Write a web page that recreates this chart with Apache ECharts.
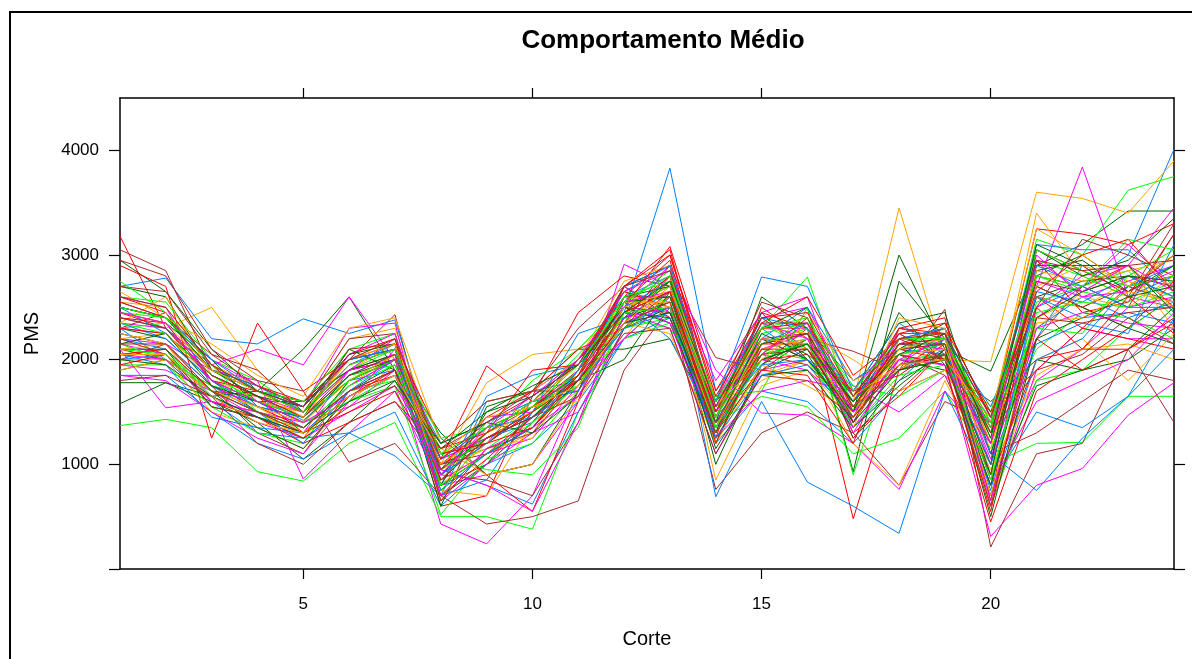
<!DOCTYPE html>
<html>
<head>
<meta charset="utf-8">
<title>Comportamento Médio</title>
<script src="https://cdn.jsdelivr.net/npm/echarts@6/dist/echarts.min.js"></script>
<style>
  html, body { margin: 0; padding: 0; background: #fff; }
  #chart { width: 1192px; height: 659px; }
</style>
</head>
<body>
<div id="chart"></div>
<script>
// cortes 1..24
const cortes = [1,2,3,4,5,6,7,8,9,10,11,12,13,14,15,16,17,18,19,20,21,22,23,24];
const xTicks = [5, 10, 15, 20];
const yTicks = [0, 1000, 2000, 3000, 4000];
const yLabels = [1000, 2000, 3000, 4000];

// PMS por individuo, agrupado pela cor do lattice
const azul = [
  [2200,2100,1700,1600,1350,1750,2000,900,1300,1600,2000,2450,3830,1700,2300,2000,1500,1900,2100,1300,2500,2700,3000,4010],
  [2700,2780,2200,2150,2390,2250,2380,950,800,620,1500,2200,2600,1300,2100,2200,1600,2100,2150,1100,2200,2900,2600,2800],
  [2300,2000,1600,1300,1250,1300,1080,700,1600,1700,1800,2700,2900,690,1600,830,600,340,1700,800,1500,1350,1650,2400],
  [1850,1850,1500,1200,1050,1300,1500,600,1000,1200,1600,2200,2400,1200,1700,1600,1200,1700,1900,1450,2300,2600,2400,2550],
  [2400,2300,1900,1750,1500,1950,2150,800,1650,1850,1950,2600,2800,1500,2200,2500,1800,2100,2050,1350,3100,3050,3050,2650],
  [2050,1950,1450,1350,1300,1650,1850,1050,1250,1400,1900,2550,2200,1350,2000,2150,1350,1800,2200,1550,2600,2400,2450,2350],
  [2500,2250,1850,1650,1420,1800,1900,700,850,1500,2250,2400,2650,1600,2790,2700,1700,2350,2050,700,2000,2200,2700,2900],
  [2250,2150,1750,1500,1200,1700,2000,1200,1400,1600,1700,2350,2500,1450,1950,2000,1600,2200,2300,1100,750,1250,1650,2100],
  [2350,2200,1800,1550,1450,1850,2050,900,1200,1550,1850,2500,2750,1400,2150,2350,1550,2050,2150,750,2650,2550,2800,2600],
  [2000,2050,1650,1450,1300,1700,1900,1050,1350,1450,1750,2300,2450,1250,1850,1950,1450,1950,2000,1000,2150,2350,2250,3100],
  [2550,2400,2000,1700,1550,2000,2100,750,1100,1350,1900,2650,2900,1550,2400,2300,1650,2250,2250,1450,2900,2700,2500,2500]
];
const magenta = [
  [2100,1540,1600,1500,1400,1550,1900,430,240,700,1700,2600,2400,1400,2000,1900,1500,1900,2000,900,1800,2100,2500,2600],
  [2200,2150,1900,1800,860,1300,1700,800,900,1000,1600,2910,2700,1600,2400,2500,1650,2050,1950,310,800,960,1470,1780],
  [2350,2300,1950,2100,1950,2600,2000,900,1200,1700,2000,2500,2900,1900,1490,1470,1200,760,1700,1200,2700,3840,2600,2500],
  [1950,1900,1700,1450,1300,1900,2200,1100,1450,1500,1900,2700,2450,1300,2300,2300,1550,2100,2150,1050,2500,2800,2900,3450],
  [2500,2400,2000,1750,1550,2300,2350,650,1000,1300,1500,2300,2800,1800,2450,2600,1400,2200,2300,600,1900,2300,2200,2200],
  [2150,2050,1650,1400,1250,1500,1750,1000,1300,1600,1800,2450,2300,1100,1900,2000,1750,1500,1850,1400,3000,2600,2750,2900],
  [2600,2500,1750,1550,1450,2050,2250,850,1100,1250,1750,2200,2600,1500,2100,2250,1300,2000,2200,1000,2400,2700,3100,2700],
  [1850,1800,1500,1250,1100,1600,2100,950,800,550,1400,2550,2350,1250,1700,1800,1700,2250,2000,800,1600,1800,2000,2450],
  [2300,2250,1850,1650,1500,1900,2000,1050,1250,1450,1850,2550,2650,1450,2200,2150,1600,2150,2100,1350,2750,2600,2650,2850],
  [2050,2000,1600,1500,1350,1750,2000,700,1150,1350,1650,2400,2500,1350,2050,2350,1350,1950,2250,650,2300,2450,2350,2300],
  [2450,2350,1800,1600,1400,1650,1850,900,1350,1650,2000,2650,2850,1550,2350,2200,1500,2000,1950,1200,2950,2650,2900,2650]
];
const verdeEscuro = [
  [1580,1780,1600,1400,1050,1400,1800,1000,1200,1500,1800,2300,2500,1300,1900,2100,1500,3000,2100,1890,2900,3100,3420,3420],
  [2950,2650,2100,1700,2100,2600,1900,700,1000,1400,1900,2700,2900,1500,2300,2500,930,2750,2200,1300,2800,3000,2700,3000],
  [1780,1780,1650,1700,1500,2000,2100,900,1300,1600,2000,2450,2400,1200,2200,2000,1450,2000,1900,1600,2000,1900,2000,2300],
  [2300,2200,1800,1500,1350,1700,1950,1300,900,1000,1700,2600,2700,1600,2050,2150,1700,2350,2450,1100,2600,2750,2800,2600],
  [2700,2600,1900,1700,1600,1900,2050,600,1550,1700,2100,2100,2200,1400,2600,2300,1250,1800,2050,700,1750,1900,2100,2500],
  [2100,2100,1550,1450,1250,1800,2000,1100,1200,1550,1800,2000,2650,1000,1950,2200,1650,2100,2350,1450,2700,2500,2300,2150],
  [2450,2350,2000,1550,1450,2100,1900,800,1500,1750,1950,2500,2350,1300,2450,2000,1500,2450,1950,1000,3050,2800,2950,3350],
  [1900,2000,1700,1350,1150,1650,1850,1200,1400,1300,1650,2400,2550,1150,1850,1900,1350,1750,2100,500,2200,2400,2600,2700],
  [2150,2250,1750,1600,1400,1850,2000,950,1250,1450,1850,2550,2600,1450,2150,2250,1550,2150,2150,900,2850,2950,2650,2900],
  [2500,2400,1900,1650,1550,2050,2150,800,1100,1350,1800,2350,2450,1350,2250,2050,1400,1900,2000,800,2400,2650,2800,2750],
  [2000,1950,1650,1450,1300,1600,1800,1150,1500,1650,1950,2450,2750,1550,2000,2150,1600,2050,2250,1250,3100,2900,2900,2450]
];
const vermelho = [
  [3180,2300,1800,1600,1500,1900,2000,900,1200,1500,2000,2500,3080,1700,2450,2300,480,1900,2200,1400,3250,3200,3100,3300],
  [2900,2700,1250,2350,1700,2000,2100,1050,1940,1600,1700,2600,3000,1600,2200,2000,1600,2100,2000,1000,2800,2700,2900,2500],
  [2450,2300,1900,1750,1600,1900,2050,600,700,1650,2450,2800,2700,1500,2050,2400,1500,2300,2250,1200,2600,2300,2700,2800],
  [2100,2000,1750,1550,1350,1700,1850,800,1100,1350,1850,2350,2900,1250,2500,2200,1300,1650,2100,850,2000,2100,2100,2400],
  [2600,2450,1950,1600,1600,2000,2150,1250,900,550,1600,2700,3050,1450,2350,2600,1850,2200,2000,1500,1900,2300,2200,2100],
  [2250,2150,1700,1650,1300,1500,1700,950,1450,1700,2100,2300,2600,1400,1900,1850,1200,2300,2400,650,2950,2450,2550,3200],
  [1950,2050,1600,1450,1200,1400,1600,1150,1300,1900,1950,2650,2500,1550,2000,2050,1700,1850,2150,1300,2200,1900,2100,2350],
  [2400,2350,1800,1700,1550,2050,2200,700,1050,1450,1750,2450,2800,1200,2150,2150,1400,2050,1950,450,1700,2000,2300,2750],
  [2300,2250,1850,1650,1450,1800,2000,1000,1350,1550,1900,2550,2950,1500,2300,2350,1550,2150,2200,1350,3050,2850,2650,3000],
  [2050,2100,1700,1500,1300,1650,1900,850,1250,1500,1800,2450,2650,1350,2100,2100,1450,1950,2050,550,2500,2100,2600,2250],
  [2550,2400,1950,1700,1500,1950,2100,1100,1200,1350,1850,2700,3000,1650,2400,2450,1650,2250,2350,1450,2650,3000,3150,2650]
];
const laranja = [
  [2400,2300,2500,1900,1500,1800,2000,1000,1780,2050,2100,2500,2700,1400,1800,2000,1600,3450,2000,1980,3600,3540,3400,3900],
  [2200,2250,1800,1650,1400,1900,2150,850,1100,1300,1900,2650,2400,1500,2200,2100,1700,1900,2150,1400,3400,2800,2600,2700],
  [2550,2500,1950,1750,1550,2200,2300,1100,1250,1500,1800,2200,2800,850,1750,1900,1450,2200,2250,1200,2300,2650,2900,2300],
  [2000,2000,1500,1350,1150,1600,1950,750,700,1400,1700,2400,2600,1650,1850,2000,1200,800,1800,950,1850,2100,2150,2000],
  [2650,2400,2150,1850,1650,2300,2400,1200,1600,1700,2000,2750,2900,1300,2050,2450,1800,2000,2000,1550,2600,2500,2750,2600],
  [2100,2150,1600,1500,1250,1750,2050,650,1350,1550,1600,2350,2250,1200,1950,1750,1500,2150,2100,600,2000,2200,1800,2250],
  [2350,2600,1850,1600,1500,2000,2200,950,1150,1250,1900,2600,2500,1450,2300,2250,2000,1700,1900,1150,2700,2900,2750,2500],
  [1900,2000,1700,1550,1300,1700,1900,1150,900,1000,1650,2450,2750,1550,2150,2300,1350,2400,2300,900,2400,2600,2500,2800],
  [2250,2150,1700,1550,1400,1800,2050,1000,1300,1500,1850,2500,2650,1450,2100,2200,1550,2050,2100,1300,2850,2750,2850,2950],
  [2450,2350,1900,1700,1450,2000,2150,800,1200,1600,1950,2550,2550,1350,2200,2150,1450,2100,2200,700,2350,2400,2650,2550],
  [2050,2050,1650,1400,1300,1650,1850,1100,1450,1550,1750,2350,2700,1550,2000,2350,1650,1950,2000,1450,3250,3000,2700,3000]
];
const verde = [
  [1370,1430,1350,930,840,1200,1400,500,500,380,1500,2300,2400,1400,1650,1550,1100,1250,1700,1000,1200,1210,1650,1650],
  [2600,2550,2000,1800,1500,1900,2100,900,1400,1600,2050,2500,2700,1550,2300,2790,1500,2100,2300,1300,3150,3000,3620,3750],
  [2050,2100,1650,1450,1350,1700,1800,1000,1150,1450,1900,2650,2550,1350,2000,2150,1650,2000,2050,600,1800,1900,2300,2600],
  [2300,2350,1800,1600,1400,1600,1750,520,1050,1200,1700,2400,2300,1650,1700,2500,900,2200,2150,1500,2950,2800,2600,2900],
  [1950,1950,1550,1300,1200,1800,2050,1250,1350,1800,2100,2550,2850,1200,2100,2000,1400,1900,2000,800,2550,2700,2850,2400],
  [2450,2400,1900,1700,1600,2100,2250,750,1250,1500,1800,2200,2350,1500,2250,2350,1750,1650,1900,1150,2100,2450,2400,2200],
  [2150,2000,1750,1650,1450,1850,1950,1100,950,900,1350,2450,2650,1300,2000,2200,1550,2100,2200,1250,2800,2650,2550,2750],
  [2750,2450,1950,1500,1300,1600,1850,850,1300,1600,1750,2300,2600,1450,2350,2100,1350,1850,1950,1400,2300,2250,2800,3050],
  [2350,2250,1850,1600,1450,1800,2000,950,1250,1500,1900,2600,2750,1450,2150,2300,1600,2050,2150,1350,3050,2850,2700,2800],
  [2100,2050,1700,1500,1350,1750,1950,800,1100,1400,1750,2450,2500,1350,2050,2150,1450,1950,2050,850,2450,2550,2500,2650],
  [2500,2400,1950,1700,1500,1950,2100,1100,1350,1550,1950,2550,2800,1600,2300,2400,1700,2200,2200,1400,2800,2700,3150,3050]
];
const marrom = [
  [3050,2850,1900,1700,1600,2000,2430,800,1000,1500,1900,2400,2800,2020,1900,2200,2080,1900,2480,210,1100,1200,2100,1400],
  [2950,2800,2100,1800,1700,1020,1200,700,430,500,650,1900,2500,760,1300,1500,1300,800,1600,1400,2600,2500,2300,2600],
  [2300,2450,1800,1600,1450,1900,2000,1000,1200,1550,2000,2600,2600,1500,2400,2100,1600,2300,2200,1100,1300,1600,1900,1800],
  [2000,2150,1750,1300,1100,1700,1900,1150,1400,1700,2300,2700,2400,1250,1950,2300,1800,2050,1850,900,2900,2900,2600,3300],
  [2500,2400,2050,1750,1550,2200,2250,900,850,700,1400,2300,2650,1600,2550,2400,1400,2150,2300,1500,2500,3150,3000,2800],
  [2200,2050,1550,1450,1250,1550,1750,1200,1600,1700,1700,2500,2450,1350,2050,1950,1550,1900,2050,1200,2700,2500,2700,2550],
  [2700,2650,2050,1900,1500,2100,2150,650,1150,1300,1800,2350,2750,1450,2200,2250,1250,1700,2100,700,2200,2700,2500,3200],
  [1800,1850,1650,1200,1000,1400,1600,1000,1100,1450,1650,2250,2300,1100,1850,1800,1450,2250,2000,1300,1900,2050,2400,2150],
  [2400,2300,1850,1650,1450,1850,2050,950,1300,1550,1850,2450,2650,1400,2150,2250,1550,2100,2150,1300,2750,2650,2800,2700],
  [2150,2150,1700,1500,1350,1700,1900,850,1250,1450,1800,2350,2550,1300,2050,2100,1450,1950,2050,600,2400,2350,2450,2500],
  [2600,2500,1950,1700,1550,2000,2200,1050,1400,1650,1950,2700,2850,1550,2350,2350,1650,2200,2250,1450,2950,2850,2900,2950]
];

// cores padrao do lattice (superpose.line)
const grupos = [
  { cor: '#0080ff', linhas: azul },
  { cor: '#ff00ff', linhas: magenta },
  { cor: '#006400', linhas: verdeEscuro },
  { cor: '#ff0000', linhas: vermelho },
  { cor: '#ffa500', linhas: laranja },
  { cor: '#00ff00', linhas: verde },
  { cor: '#a52a2a', linhas: marrom }
];

// intercala as cores como no xyplot com groups
const series = [];
for (let i = 0; i < azul.length; i++) {
  grupos.forEach(function (g) {
    series.push({
      type: 'line',
      data: g.linhas[i].map(function (v, k) { return [cortes[k], v]; }),
      showSymbol: false,
      symbol: 'none',
      silent: true,
      lineStyle: { color: g.cor, width: 1 }
    });
  });
}

const fonte = 'Liberation Sans, Arial, Helvetica, sans-serif';
const semMilhar = function (v) { return String(v); };

const eixoX = function (pos) {
  return {
    type: 'value',
    position: pos,
    min: 1,
    max: 24,
    axisLine: { show: true, onZero: false, lineStyle: { color: '#000', width: 1.5 } },
    axisTick: { show: true, inside: false, length: 10, customValues: xTicks, lineStyle: { color: '#000', width: 1.2 } },
    axisLabel: pos === 'bottom'
      ? { show: true, customValues: xTicks, formatter: semMilhar, color: '#000', fontSize: 17, fontFamily: fonte, margin: 27 }
      : { show: false },
    splitLine: { show: false }
  };
};
const eixoY = function (pos) {
  return {
    type: 'value',
    position: pos,
    min: 0,
    max: 4500,
    axisLine: { show: true, onZero: false, lineStyle: { color: '#000', width: 1.5 } },
    axisTick: { show: true, inside: false, length: 11, customValues: yTicks, lineStyle: { color: '#000', width: 1.2 } },
    axisLabel: pos === 'left'
      ? { show: true, customValues: yLabels, formatter: semMilhar, color: '#000', fontSize: 17, fontFamily: fonte, margin: 21 }
      : { show: false },
    splitLine: { show: false }
  };
};

const xBaixo = eixoX('bottom');
xBaixo.name = 'Corte';
xBaixo.nameLocation = 'middle';
xBaixo.nameGap = 60;
xBaixo.nameTextStyle = { color: '#000', fontSize: 20, fontFamily: fonte };

const yEsq = eixoY('left');
yEsq.name = 'PMS';
yEsq.nameLocation = 'middle';
yEsq.nameGap = 78;
yEsq.nameTextStyle = { color: '#000', fontSize: 20, fontFamily: fonte };

const chart = echarts.init(document.getElementById('chart'), null, { renderer: 'canvas' });
chart.setOption({
  animation: false,
  backgroundColor: '#fff',
  title: {
    text: 'Comportamento Médio',
    left: 658,
    top: 23,
    textAlign: 'center',
    textStyle: { color: '#000', fontSize: 26, fontWeight: 'bold', fontFamily: fonte }
  },
  graphic: [{
    type: 'rect',
    shape: { x: 10, y: 12, width: 1400, height: 900 },
    style: { fill: 'none', stroke: '#000', lineWidth: 2 },
    silent: true,
    z: -1
  }],
  grid: { left: 120, right: 18, top: 98, bottom: 90, containLabel: false },
  xAxis: [xBaixo, eixoX('top')],
  yAxis: [yEsq, eixoY('right')],
  series: series
});
</script>
</body>
</html>
